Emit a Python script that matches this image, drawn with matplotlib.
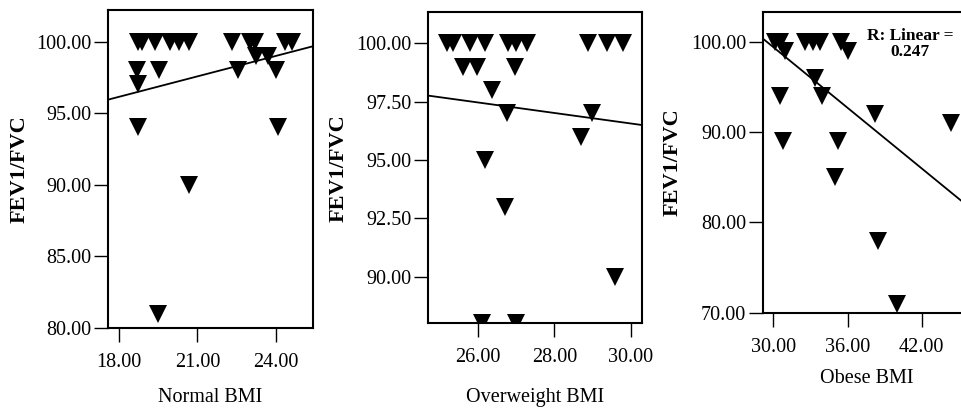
import numpy as np
import matplotlib
matplotlib.use("Agg")
import matplotlib.pyplot as plt

plt.rcParams["font.family"] = ["Liberation Serif", "DejaVu Serif"]

# Normal BMI panel
normal_bmi = [18.75, 18.9, 19.4, 19.95, 20.3, 20.7, 18.7, 18.75, 19.55, 18.75, 20.7, 19.5,
              22.3, 22.55, 23.0, 23.2, 23.25, 23.7, 24.0, 24.05, 24.35, 24.6]
normal_ratio = [100, 100, 100, 100, 100, 100, 98, 97, 98, 94, 90, 81,
                100, 98, 100, 100, 99, 99, 98, 94, 100, 100]
normal_fit_x = [17.6, 25.4]
normal_fit_y = [95.94, 99.67]

# Overweight BMI panel
over_bmi = [25.17, 25.34, 25.78, 26.18, 26.79, 27.0, 27.27, 28.89, 29.37, 29.81,
            25.61, 25.96, 26.96, 26.35, 26.75, 28.98, 28.71, 26.18, 26.7, 29.59, 26.09, 27.0]
over_ratio = [100, 100, 100, 100, 100, 100, 100, 100, 100, 100,
              99, 99, 99, 98, 97, 97, 96, 95, 93, 90, 88, 88]
over_fit_x = [24.68, 30.29]
over_fit_y = [97.76, 96.5]

# Obese BMI panel
obese_bmi = [30.1, 30.5, 30.9, 32.56, 33.23, 33.78, 35.45, 36.06, 33.37, 33.91, 30.54,
             30.81, 35.26, 34.99, 38.22, 38.49, 39.98, 44.4]
obese_ratio = [100, 100, 99, 100, 100, 100, 100, 99, 96, 94, 94,
               89, 89, 85, 92, 78, 71, 91]
obese_fit_x = [29.14, 46.0]
obese_fit_y = [100.4, 81.5]
r_text = "R: Linear =\n0.247"

panels = [
    dict(x=normal_bmi, y=normal_ratio, fx=normal_fit_x, fy=normal_fit_y, label="Normal BMI",
         pos=[0.1124, 0.2172, 0.2133, 0.7589], xlim=(17.6, 25.4), ylim=(80, 102.2),
         xticks=[18, 21, 24], yticks=[80, 85, 90, 95, 100], ylab_x=-0.43, xlab_y=-0.22),
    dict(x=over_bmi, y=over_ratio, fx=over_fit_x, fy=over_fit_y, label="Overweight BMI",
         pos=[0.4454, 0.2291, 0.2223, 0.7415], xlim=(24.68, 30.29), ylim=(88.01, 101.33),
         xticks=[26, 28, 30], yticks=[90, 92.5, 95, 97.5, 100], ylab_x=-0.42, xlab_y=-0.24),
    dict(x=obese_bmi, y=obese_ratio, fx=obese_fit_x, fy=obese_fit_y, label="Obese BMI",
         pos=[0.7937, 0.2537, 0.2170, 0.7169], xlim=(29.14, 46.0), ylim=(70, 103.3),
         xticks=[30, 36, 42], yticks=[70, 80, 90, 100], ylab_x=-0.43, xlab_y=-0.22),
]

fig = plt.figure(figsize=(9.61, 4.19), dpi=100)
axes = []
for p in panels:
    ax = fig.add_axes(p["pos"])
    ax.plot(p["fx"], p["fy"], color="black", linewidth=1.3)
    ax.plot(p["x"], p["y"], linestyle="none", marker="v", markersize=12.5,
            markeredgewidth=0, color="black")
    ax.set_xlim(*p["xlim"])
    ax.set_ylim(*p["ylim"])
    ax.set_xticks(p["xticks"])
    ax.set_yticks(p["yticks"])
    ax.set_xticklabels([f"{v:.2f}" for v in p["xticks"]])
    ax.set_yticklabels([f"{v:.2f}" for v in p["yticks"]])
    ax.tick_params(axis="both", direction="out", length=10, width=1.0, labelsize=14.5, colors="black")
    ax.tick_params(axis="x", pad=8)
    ax.tick_params(axis="y", pad=2)
    for s in ax.spines.values():
        s.set_linewidth(1.5)
    ax.set_ylabel("FEV1/FVC", fontsize=16, fontweight="bold", va="center")
    ax.yaxis.set_label_coords(p["ylab_x"], 0.5)
    ax.set_xlabel(p["label"], fontsize=14.5, va="center")
    ax.xaxis.set_label_coords(0.5, p["xlab_y"])
    axes.append(ax)

axes[2].text(0.706, 0.894, r_text, transform=axes[2].transAxes, ha="center", va="center",
             fontsize=12.5, fontweight="bold", linespacing=1.05)

fig.savefig("out.png", dpi=100, facecolor="white")
